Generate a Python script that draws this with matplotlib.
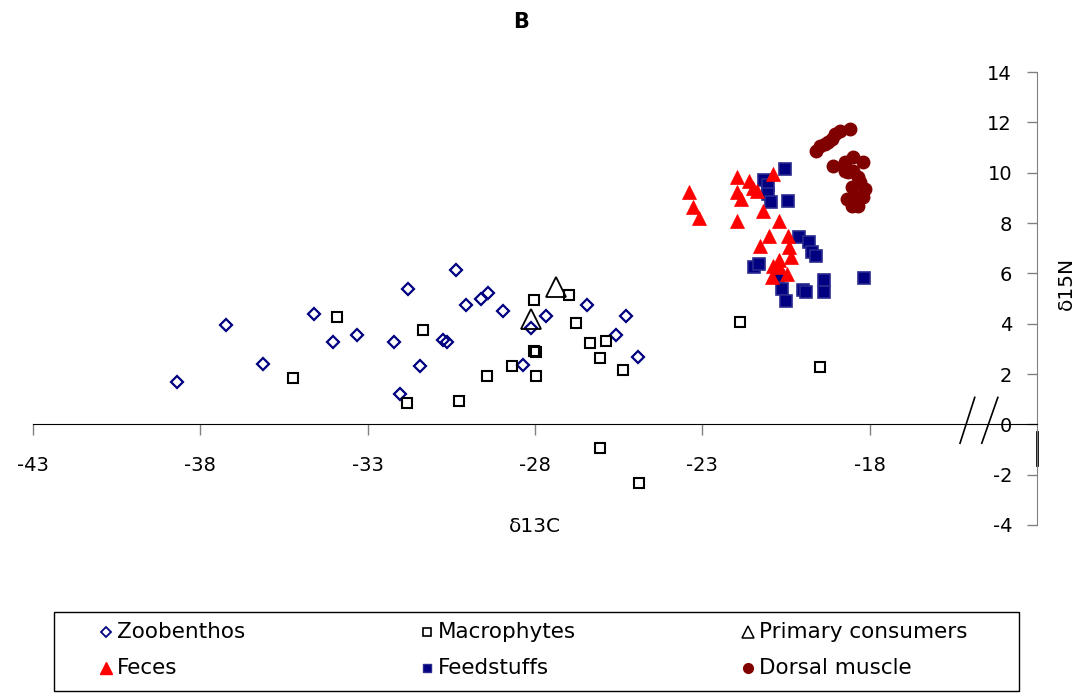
import matplotlib
matplotlib.use("Agg")
import matplotlib.pyplot as plt
from matplotlib.lines import Line2D
from matplotlib.patches import Rectangle

plt.rcParams['font.family'] = ['DejaVu Sans']
plt.rcParams['axes.unicode_minus'] = False

# stable isotope values (d13C, d15N)
zoo_c = [-38.70, -37.23, -36.13, -34.60, -34.04, -33.32, -32.21, -32.03, -31.80, -31.44,
         -30.75, -30.63, -30.36, -30.06, -29.62, -29.41, -28.96, -28.36, -28.12, -27.67,
         -26.45, -25.58, -25.28, -24.92]
zoo_n = [1.67, 3.93, 2.38, 4.40, 3.29, 3.53, 3.29, 1.20, 5.36, 2.30,
         3.37, 3.29, 6.15, 4.76, 5.00, 5.20, 4.52, 2.34, 3.81, 4.29,
         4.76, 3.53, 4.29, 2.66]

mac_c = [-33.93, -35.22, -31.36, -31.83, -30.26, -29.44, -28.69, -28.03, -26.99, -26.76,
         -28.02, -27.97, -27.98, -26.35, -25.88, -26.06, -25.36, -26.06, -24.90, -21.88,
         -19.49]
mac_n = [4.26, 1.85, 3.73, 0.85, 0.92, 1.93, 2.33, 4.96, 5.12, 4.04,
         2.93, 2.88, 1.93, 3.25, 3.33, 2.63, 2.17, -0.94, -2.33, 4.05,
         2.26]

prim_c = [-27.36, -28.12]
prim_n = [5.45, 4.19]

fec_c = [-23.39, -23.29, -23.10, -21.96, -21.96, -21.96, -21.83, -21.60, -21.48, -21.38,
         -20.88, -21.18, -20.71, -21.00, -20.43, -21.28, -20.41, -20.35, -20.70, -20.88,
         -20.46, -20.93, -20.72]
fec_n = [9.22, 8.64, 8.20, 9.84, 9.25, 8.06, 8.96, 9.68, 9.39, 9.29,
         9.95, 8.49, 8.06, 7.50, 7.50, 7.10, 7.04, 6.64, 6.51, 6.31,
         5.98, 5.85, 6.24]

feed_c = [-20.52, -21.16, -21.03, -21.05, -20.96, -20.43, -20.11, -19.81, -19.73, -19.59,
          -21.45, -21.32, -20.74, -20.63, -20.51, -19.99, -19.90, -19.35, -19.35, -18.17]
feed_n = [10.15, 9.71, 9.52, 9.15, 8.82, 8.86, 7.43, 7.23, 6.84, 6.67,
          6.24, 6.38, 5.90, 5.36, 4.89, 5.32, 5.25, 5.74, 5.25, 5.82]

dor_c = [-18.59, -18.89, -19.04, -19.14, -19.24, -19.34, -19.49, -19.59, -18.49, -18.74,
         -19.09, -18.19, -18.74, -18.49, -18.34, -18.64, -18.29, -18.54, -18.14, -18.19,
         -18.69, -18.39, -18.54, -18.34]
dor_n = [11.73, 11.64, 11.54, 11.34, 11.20, 11.14, 11.07, 10.87, 10.61, 10.41,
         10.28, 10.41, 10.08, 10.08, 9.81, 10.01, 9.62, 9.42, 9.35, 9.02,
         8.96, 9.02, 8.69, 8.69]

W, H = 1079, 698
fig = plt.figure(figsize=(W / 100, H / 100), dpi=100)
ax = fig.add_axes([33 / W, 1 - 525 / H, 1004 / W, 453 / H])

ax.plot(zoo_c, zoo_n, 'D', ms=6, mfc='none', mec='#000080', mew=1.6, ls='none')
ax.plot(mac_c, mac_n, 's', ms=7, mfc='none', mec='black', mew=1.5, ls='none')
ax.plot(feed_c, feed_n, 's', ms=8, mfc='#000080', mec='#2a2a90', mew=1.2, ls='none')
ax.plot(fec_c, fec_n, '^', ms=10, mfc='red', mec='red', mew=0.5, ls='none')
ax.plot(dor_c, dor_n, 'o', ms=9, mfc='#800000', mec='#800000', ls='none')
ax.plot(prim_c, prim_n, '^', ms=14, mfc='none', mec='black', mew=1.3, ls='none')

ax.set_xlim(-43, -13)
ax.set_ylim(-4, 14)
ax.set_xticks([-43, -38, -33, -28, -23, -18])
ax.set_yticks(range(-4, 15, 2))

ax.spines['top'].set_visible(False)
ax.spines['right'].set_visible(False)
ax.spines['bottom'].set_position(('data', 0))
ax.spines['bottom'].set_color('black')
ax.spines['left'].set_position(('axes', 1.0))
ax.spines['left'].set_color('#808080')
ax.tick_params(axis='x', direction='out', length=8, width=1, color='#808080',
               pad=15, labelsize=14)
ax.tick_params(axis='y', direction='out', length=7, width=1, color='#808080',
               pad=11, labelsize=14)

# axis break marks and stub below zero
ax.plot([-15.3, -14.86], [-0.75, 1.07], color='black', lw=1.2, clip_on=False)
ax.plot([-14.65, -14.17], [-0.75, 1.07], color='black', lw=1.2, clip_on=False)
ax.plot([-13, -13], [-0.3, -1.63], color='black', lw=2, clip_on=False)

fig.text(535 / W, 1 - 527 / H, 'δ13C', ha='center', va='center', fontsize=14.5)
fig.text(1066 / W, 1 - 283 / H, 'δ15N', ha='center', va='center', rotation=90, fontsize=14.5)
fig.text(521 / W, 1 - 22 / H, 'B', ha='center', va='center', fontsize=15, weight='bold')

# legend box
fig.add_artist(Rectangle((54 / W, 1 - 691 / H), 965 / W, 79 / H, transform=fig.transFigure,
                         fill=False, ec='black', lw=1))
labels = ['Zoobenthos', 'Macrophytes', 'Primary consumers', 'Feces', 'Feedstuffs', 'Dorsal muscle']
styles = [dict(marker='D', ms=5, mfc='none', mec='#000080', mew=1.3),
          dict(marker='s', ms=5.5, mfc='none', mec='black', mew=1.2),
          dict(marker='^', ms=9, mfc='none', mec='black', mew=1.1),
          dict(marker='^', ms=8, mfc='red', mec='red'),
          dict(marker='s', ms=6, mfc='#000080', mec='#2a2a90'),
          dict(marker='o', ms=7, mfc='#800000', mec='#800000')]
for i, (lab, st) in enumerate(zip(labels, styles)):
    x0 = 106 + 321 * (i % 3)
    y0 = 632 + 36 * (i // 3)
    fig.add_artist(Line2D([x0 / W], [1 - y0 / H], transform=fig.transFigure, ls='none', **st))
    fig.text((x0 + 11) / W, 1 - y0 / H, lab, ha='left', va='center', fontsize=15.5)

fig.savefig('out.png', dpi=100)
